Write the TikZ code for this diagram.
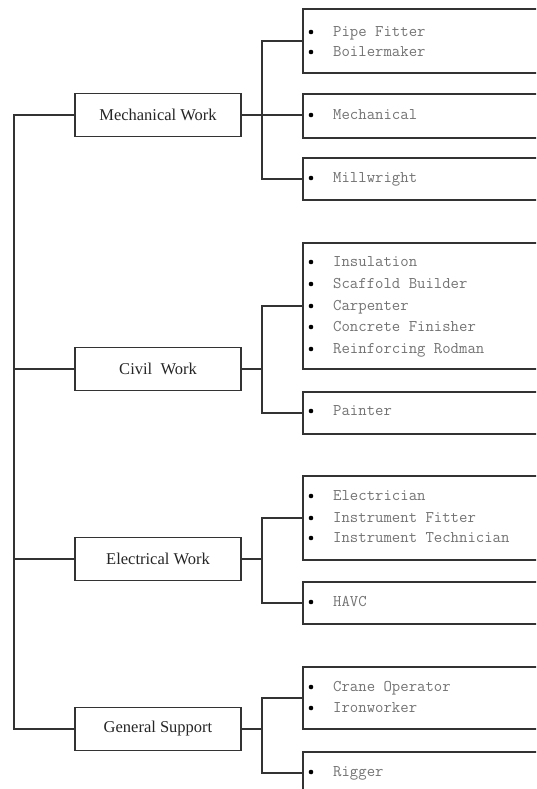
\documentclass[tikz,border=0pt]{standalone}
\usepackage{fontspec}
\setmainfont{Liberation Serif}
\tikzset{
  cat/.style={draw=black!80, line width=1.8pt, minimum width=166pt, minimum height=43pt, inner sep=0pt, font=\fontsize{16.5}{18}\selectfont, text=black!85},
  leaf/.style={draw=black!80, line width=1.8pt, anchor=north west, minimum width=300pt, inner sep=0pt},
  itemtxt/.style={inner sep=0pt, font=\ttfamily\fontsize{16.3}{18}\selectfont, text=black!55},
  conn/.style={draw=black!80, line width=1.8pt},
  bul/.style={fill=black}
}
\newcommand\leafitem[3]{\fill[bul] (311,#2) circle (2.3pt); \node[itemtxt, anchor=base west] (#1) at (333,#2+4.5) {#3};}
\begin{document}
\begin{tikzpicture}[x=1pt, y=-1pt]
\useasboundingbox (0,0) rectangle (536,789);
\clip (0,0) rectangle (536,789);
\fill[white] (0,0) rectangle (536,789);
% category boxes
\node[cat] (mech) at (158,115) {Mechanical Work};
\node[cat] (civil) at (158,369) {Civil\ \ Work};
\node[cat] (elec) at (158,559) {Electrical Work};
\node[cat] (gen) at (158,729) {General Support};
% leaf boxes
\node[leaf, minimum height=64pt] (m1) at (302,8) {};
\node[leaf, minimum height=44pt] (m2) at (302,93) {};
\node[leaf, minimum height=42pt] (m3) at (302,157) {};
\node[leaf, minimum height=126pt] (c1) at (302,242) {};
\node[leaf, minimum height=42pt] (c2) at (302,391) {};
\node[leaf, minimum height=84pt] (e1) at (302,475) {};
\node[leaf, minimum height=42pt] (e2) at (302,581) {};
\node[leaf, minimum height=62pt] (g1) at (302,666) {};
\node[leaf, minimum height=42pt] (g2) at (302,751) {};
% items
\leafitem{i1}{32}{Pipe Fitter}
\leafitem{i2}{52}{Boilermaker}
\leafitem{i3}{115}{Mechanical}
\leafitem{i4}{178}{Millwright}
\leafitem{i5}{262}{Insulation}
\leafitem{i6}{284}{Scaffold Builder}
\leafitem{i7}{306}{Carpenter}
\leafitem{i8}{327}{Concrete Finisher}
\leafitem{i9}{349}{Reinforcing Rodman}
\leafitem{i10}{411}{Painter}
\leafitem{i11}{496}{Electrician}
\leafitem{i12}{518}{Instrument Fitter}
\leafitem{i13}{538}{Instrument Technician}
\leafitem{i14}{602}{HAVC}
\leafitem{i15}{687}{Crane Operator}
\leafitem{i16}{708}{Ironworker}
\leafitem{i17}{772}{Rigger}
% junctions
\coordinate (jm) at (262,115);
\coordinate (jc) at (262,369);
\coordinate (je) at (262,559);
\coordinate (jg) at (262,729);
\coordinate (sTop) at (14,115);
\coordinate (sBot) at (14,729);
% spine
\draw[conn] (mech.west) -- (sTop) -- (sBot) -- (gen.west);
\draw[conn] (civil.west) -- (civil.west -| sTop);
\draw[conn] (elec.west) -- (elec.west -| sTop);
% mechanical
\draw[conn] (mech.east) -- (jm);
\draw[conn] (jm) |- (m1.west);
\draw[conn] (jm) -- (jm -| m2.west);
\draw[conn] (jm) |- (m3.west);
% civil
\draw[conn] (civil.east) -- (jc);
\draw[conn] (jc) |- (c1.west);
\draw[conn] (jc) |- (c2.west);
% electrical
\draw[conn] (elec.east) -- (je);
\draw[conn] (je) |- (e1.west);
\draw[conn] (je) |- (e2.west);
% general
\draw[conn] (gen.east) -- (jg);
\draw[conn] (jg) |- (g1.west);
\draw[conn] (jg) |- (g2.west);
\end{tikzpicture}
\end{document}
